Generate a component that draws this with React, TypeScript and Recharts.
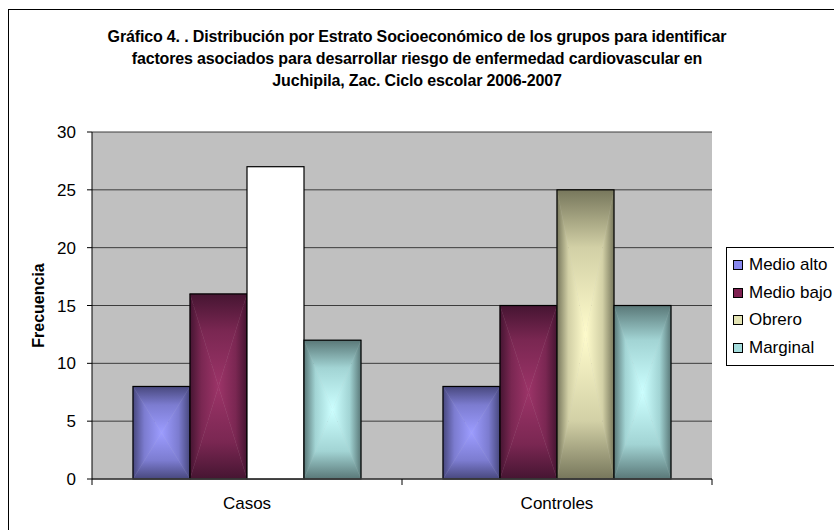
import React from 'react';
import { BarChart, Bar, XAxis, YAxis, CartesianGrid, Legend } from 'recharts';

// socio-economic stratum counts per group
const grupos = ['Casos', 'Controles'];
const medioAlto = [8, 8];
const medioBajo = [16, 15];
const obrero = [27, 25];
const marginal = [12, 15];
const yTicks = [0, 5, 10, 15, 20, 25, 30];

const data = grupos.map((grupo, i) => ({
  grupo,
  medioAlto: medioAlto[i],
  medioBajo: medioBajo[i],
  obrero: obrero[i],
  marginal: marginal[i],
}));

const series = [
  { key: 'medioAlto', name: 'Medio alto', light: '#9c9cff', mid: '#7c7cd0', dark: '#48487e', swatch: '#8888ee' },
  { key: 'medioBajo', name: 'Medio bajo', light: '#9c3468', mid: '#7a2752', dark: '#461532', swatch: '#7e2050' },
  { key: 'obrero', name: 'Obrero', light: '#fffccc', mid: '#d2d0a6', dark: '#77775c', swatch: '#e4e4b4' },
  { key: 'marginal', name: 'Marginal', light: '#ccffff', mid: '#a2d4d4', dark: '#5a7878', swatch: '#a4dcdc' },
];

const FONT = '"Liberation Sans", Arial, sans-serif';

// four gradients per series, one for each triangle of the "from center" fill
const Gradients = () => (
  <defs>
    {series.map((s) => {
      const out = [
        <stop key="a" offset="0" stopColor={s.dark} />,
        <stop key="b" offset="0.4" stopColor={s.mid} />,
        <stop key="c" offset="1" stopColor={s.light} />,
      ];
      const back = [
        <stop key="a" offset="0" stopColor={s.light} />,
        <stop key="b" offset="0.6" stopColor={s.mid} />,
        <stop key="c" offset="1" stopColor={s.dark} />,
      ];
      return (
        <React.Fragment key={s.key}>
          <linearGradient id={`${s.key}-t`} x1="0" y1="0" x2="0" y2="1">{out}</linearGradient>
          <linearGradient id={`${s.key}-b`} x1="0" y1="0" x2="0" y2="1">{back}</linearGradient>
          <linearGradient id={`${s.key}-l`} x1="0" y1="0" x2="1" y2="0">{out}</linearGradient>
          <linearGradient id={`${s.key}-r`} x1="0" y1="0" x2="1" y2="0">{back}</linearGradient>
        </React.Fragment>
      );
    })}
  </defs>
);

const makeShape = (id: string, plainIndex?: number) => (props: any) => {
  const { x, y, width, height, index } = props;
  if (!height || height <= 0) return null;
  if (index === plainIndex) {
    return <rect x={x} y={y} width={width} height={height} fill="#fff" stroke="#000" strokeWidth={1.2} />;
  }
  const cx = x + width / 2;
  const cy = y + height / 2;
  const tri = (pts: number[][], g: string) => (
    <polygon
      points={pts.map((p) => p.join(',')).join(' ')}
      fill={`url(#${id}-${g})`}
      stroke={`url(#${id}-${g})`}
      strokeWidth={0.4}
    />
  );
  return (
    <g>
      {tri([[x, y], [x + width, y], [cx, cy]], 't')}
      {tri([[x, y + height], [x + width, y + height], [cx, cy]], 'b')}
      {tri([[x, y], [x, y + height], [cx, cy]], 'l')}
      {tri([[x + width, y], [x + width, y + height], [cx, cy]], 'r')}
      <rect x={x} y={y} width={width} height={height} fill="none" stroke="#000" strokeWidth={1.2} />
    </g>
  );
};

// category label centred, tick marks on the category boundaries
const GroupTick = (props: any) => {
  const { x, y, payload, index, visibleTicksCount } = props;
  const half = payload.offset ?? 0;
  return (
    <g>
      <line x1={x - half} x2={x - half} y1={y} y2={y + 6} stroke="#000" />
      {index === visibleTicksCount - 1 && (
        <line x1={x + half} x2={x + half} y1={y} y2={y + 6} stroke="#000" />
      )}
      <text x={x} y={y + 30} textAnchor="middle" fontSize={17} fontFamily={FONT} fill="#000">
        {payload.value}
      </text>
    </g>
  );
};

const YLabel = (props: any) => {
  const { viewBox } = props;
  const cx = 38;
  const cy = viewBox.y + viewBox.height / 2;
  return (
    <text
      x={cx}
      y={cy}
      transform={`rotate(-90 ${cx} ${cy})`}
      textAnchor="middle"
      dominantBaseline="central"
      fontSize={16}
      fontWeight="bold"
      fontFamily={FONT}
      fill="#000"
    >
      Frecuencia
    </text>
  );
};

const LegendBox = (props: any) => {
  const { payload = [] } = props;
  const items = series
    .map((s) => ({ s, p: payload.find((it: any) => it.dataKey === s.key) }))
    .filter((it) => it.p);
  return (
    <div
      style={{
        border: '1px solid #000',
        background: '#fff',
        padding: '3px 0 3px 6px',
        width: 140,
        fontFamily: FONT,
        fontSize: 17,
        color: '#000',
        textAlign: 'left',
      }}
    >
      {items.map(({ s, p }) => (
        <div key={s.key} style={{ height: 27.7, display: 'flex', alignItems: 'center', whiteSpace: 'nowrap' }}>
          <span
            style={{
              display: 'inline-block',
              width: 8,
              height: 8,
              border: '1px solid #000',
              background: s.swatch,
              marginRight: 6,
            }}
          />
          {p.value}
        </div>
      ))}
    </div>
  );
};

export default function App() {
  return (
    <div style={{ position: 'relative', width: 834, height: 530, overflow: 'hidden', background: '#fff' }}>
      <style>{'body{margin:0}'}</style>
      <div
        style={{
          position: 'absolute',
          left: 8,
          top: 9,
          width: 900,
          height: 600,
          border: '1.5px solid #000',
          boxSizing: 'border-box',
        }}
      />
      <div
        style={{
          position: 'absolute',
          top: 26,
          left: 0,
          width: 834,
          textAlign: 'center',
          fontFamily: FONT,
          fontWeight: 'bold',
          fontSize: 16,
          letterSpacing: -0.15,
          lineHeight: '22px',
          color: '#000',
        }}
      >
        Gráfico 4. . Distribución por Estrato Socioeconómico de los grupos para identificar
        <br />
        factores asociados para desarrollar riesgo de enfermedad cardiovascular en
        <br />
        Juchipila, Zac. Ciclo escolar 2006-2007
      </div>
      <BarChart
        width={834}
        height={530}
        data={data}
        margin={{ top: 132, right: 122, bottom: 0, left: 32 }}
        barGap={0}
        barCategoryGap={41}
        style={{ position: 'absolute', left: 0, top: 0 }}
      >
        <Gradients />
        <CartesianGrid vertical={false} fill="#c0c0c0" stroke="#3c3c3c" strokeWidth={1} />
        <XAxis
          dataKey="grupo"
          axisLine={{ stroke: '#404040', strokeWidth: 1.5 }}
          tickLine={false}
          tickSize={0}
          tickMargin={0}
          tick={<GroupTick />}
          height={51}
          interval={0}
        />
        <YAxis
          domain={[0, 30]}
          ticks={yTicks}
          width={60}
          axisLine={{ stroke: '#000' }}
          tickLine={{ stroke: '#000' }}
          tickSize={5}
          tickMargin={11}
          tick={{ fill: '#000', fontSize: 17, fontFamily: FONT }}
          label={<YLabel />}
        />
        <YAxis
          yAxisId="frame"
          orientation="right"
          width={0}
          tick={false}
          tickLine={false}
          axisLine={{ stroke: '#808080' }}
        />
        <Legend
          layout="vertical"
          align="center"
          verticalAlign="middle"
          content={<LegendBox />}
          wrapperStyle={{ position: 'absolute', left: 726, top: 247, right: 'auto', bottom: 'auto', width: 140 }}
        />
        {series.map((s) => (
          <Bar
            key={s.key}
            dataKey={s.key}
            name={s.name}
            fill={s.swatch}
            isAnimationActive={false}
            shape={makeShape(s.key, s.key === 'obrero' ? 0 : undefined)}
          />
        ))}
      </BarChart>
    </div>
  );
}
